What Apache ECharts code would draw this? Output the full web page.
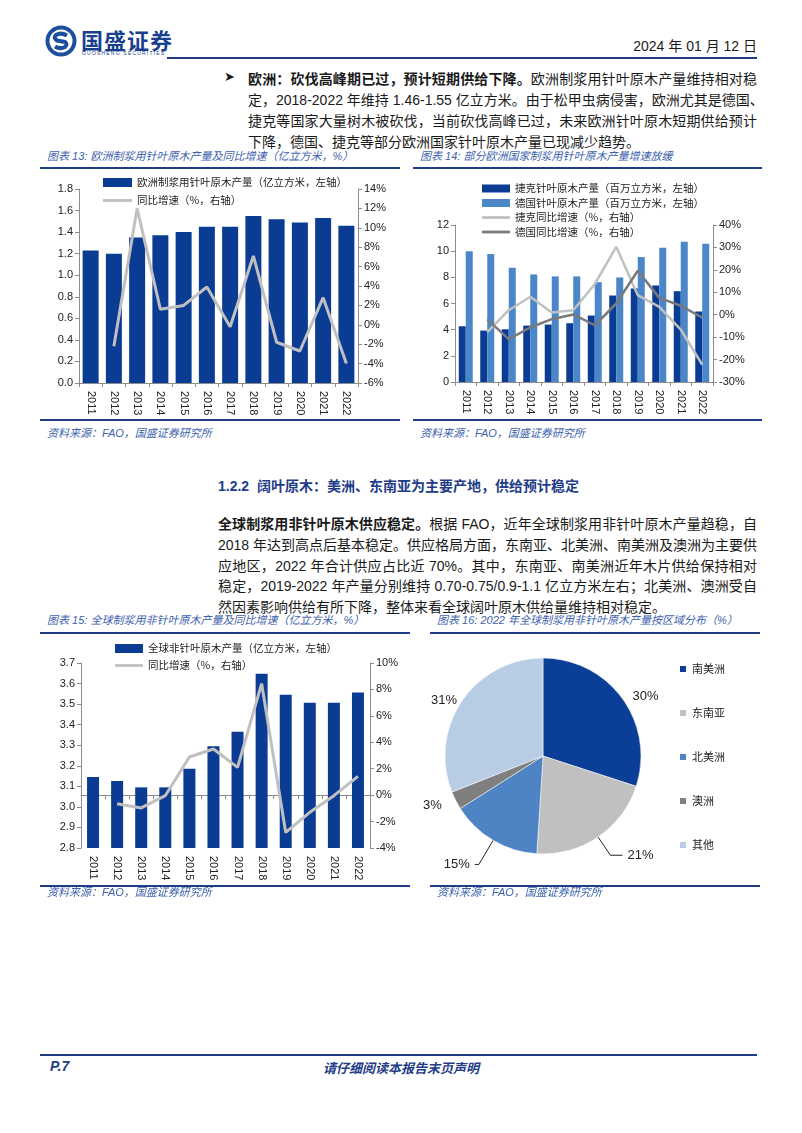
<!DOCTYPE html>
<html>
<head>
<meta charset="utf-8">
<script src="https://cdn.jsdelivr.net/npm/echarts@6.0.0/dist/echarts.min.js"></script>
<style>
  body { margin: 0; background: #fff; }
  #page { position: relative; width: 802px; height: 1133px; overflow: hidden;
    font-family: "Liberation Sans", "Noto Sans CJK SC", sans-serif; color: #1a1a1a; }
  .abs { position: absolute; }
  .ln { position: absolute; font-size: 14px; height: 21px; line-height: 21px; white-space: nowrap;
    text-align: justify; text-align-last: justify; }
  .ln.last { text-align-last: left; }
  .cap { position: absolute; font-size: 11px; font-style: italic; color: #3d62ad; white-space: nowrap; line-height: 14px; }
  .rule { position: absolute; height: 2px; background: #1f3c87; }
  .chart { position: absolute; }
</style>
</head>
<body>
<div id="page">
  <!-- header -->
  <svg class="abs" style="left:44px;top:24px" width="34" height="34" viewBox="0 0 34 34">
    <circle cx="17" cy="17" r="15.5" fill="#1d4f9e"/>
    <circle cx="17" cy="17" r="11.5" fill="#fff"/>
    <path d="M23 11.5 Q17 8 12 11 Q9 14 13 16.5 L21 18 Q24 20 21 23 Q16 25.5 11 22.5" fill="none" stroke="#1d4f9e" stroke-width="4"/>
  </svg>
  <div class="abs" style="left:81px;top:23px;font-size:22px;font-weight:bold;color:#1a3f8f;letter-spacing:1px;font-family:'Noto Sans CJK SC'">国盛证券</div>
  <div class="abs" style="left:82px;top:50px;font-size:5px;color:#1a3f8f;letter-spacing:1.2px">GUOSHENG SECURITIES</div>
  <div class="abs" style="right:45px;top:35px;font-size:14px">2024 年 01 月 12 日</div>
  <div class="rule" style="left:167px;top:57px;width:590px"></div>

  <!-- paragraph 1 -->
  <div class="abs" style="left:224px;top:69px;font-size:13px">&#10148;</div>
  <div class="ln" style="left:248px;top:69px;width:509px"><b>欧洲：砍伐高峰期已过，预计短期供给下降。</b>欧洲制浆用针叶原木产量维持相对稳</div>
  <div class="ln" style="left:248px;top:90px;width:509px">定，2018-2022 年维持 1.46-1.55 亿立方米。由于松甲虫病侵害，欧洲尤其是德国、</div>
  <div class="ln" style="left:248px;top:111px;width:509px">捷克等国家大量树木被砍伐，当前砍伐高峰已过，未来欧洲针叶原木短期供给预计</div>
  <div class="ln last" style="left:248px;top:132px;width:509px">下降，德国、捷克等部分欧洲国家针叶原木产量已现减少趋势。</div>

  <!-- chart 13 / 14 captions -->
  <div class="cap" style="left:47px;top:149px">图表 13: 欧洲制浆用针叶原木产量及同比增速（亿立方米，%）</div>
  <div class="rule" style="left:40px;top:167px;width:360px;height:1.5px"></div>
  <div class="cap" style="left:420px;top:149px">图表 14: 部分欧洲国家制浆用针叶原木产量增速放缓</div>
  <div class="rule" style="left:413px;top:167px;width:349px;height:1.5px"></div>
  <div id="c13" class="chart" style="left:40px;top:170px;width:370px;height:250px"></div>
  <div id="c14" class="chart" style="left:410px;top:170px;width:370px;height:250px"></div>
  <div class="rule" style="left:40px;top:419px;width:360px;height:1.5px"></div>
  <div class="rule" style="left:413px;top:419px;width:349px;height:1.5px"></div>
  <div class="cap" style="left:47px;top:426px">资料来源：FAO，国盛证券研究所</div>
  <div class="cap" style="left:420px;top:426px">资料来源：FAO，国盛证券研究所</div>

  <!-- section 1.2.2 -->
  <div class="abs" style="left:218px;top:476px;font-size:14px;font-weight:bold;color:#1f3c87;line-height:21px">1.2.2&nbsp; 阔叶原木：美洲、东南亚为主要产地，供给预计稳定</div>
  <div class="ln" style="left:218px;top:514px;width:539px"><b>全球制浆用非针叶原木供应稳定。</b>根据 FAO，近年全球制浆用非针叶原木产量趋稳，自</div>
  <div class="ln" style="left:218px;top:535px;width:539px">2018 年达到高点后基本稳定。供应格局方面，东南亚、北美洲、南美洲及澳洲为主要供</div>
  <div class="ln" style="left:218px;top:556px;width:539px">应地区，2022 年合计供应占比近 70%。其中，东南亚、南美洲近年木片供给保持相对</div>
  <div class="ln" style="left:218px;top:576px;width:539px">稳定，2019-2022 年产量分别维持 0.70-0.75/0.9-1.1 亿立方米左右；北美洲、澳洲受自</div>
  <div class="ln last" style="left:218px;top:597px;width:539px">然因素影响供给有所下降，整体来看全球阔叶原木供给量维持相对稳定。</div>

  <!-- chart 15 / 16 captions -->
  <div class="cap" style="left:47px;top:613px">图表 15: 全球制浆用非针叶原木产量及同比增速（亿立方米，%）</div>
  <div class="rule" style="left:40px;top:632px;width:370px;height:1.5px"></div>
  <div class="cap" style="left:437px;top:613px">图表 16: 2022 年全球制浆用非针叶原木产量按区域分布（%）</div>
  <div class="rule" style="left:430px;top:632px;width:330px;height:1.5px"></div>
  <div id="c15" class="chart" style="left:40px;top:636px;width:380px;height:250px"></div>
  <div id="c16" class="chart" style="left:395px;top:636px;width:390px;height:248px"></div>
  <div class="rule" style="left:40px;top:885px;width:370px;height:1.5px"></div>
  <div class="rule" style="left:430px;top:885px;width:330px;height:1.5px"></div>
  <div class="cap" style="left:47px;top:885px">资料来源：FAO，国盛证券研究所</div>
  <div class="cap" style="left:437px;top:885px">资料来源：FAO，国盛证券研究所</div>

  <!-- footer -->
  <div class="rule" style="left:40px;top:1054px;width:717px"></div>
  <div class="abs" style="left:50px;top:1058px;font-size:14px;font-weight:bold;font-style:italic;color:#1f3c87">P.7</div>
  <div class="abs" style="left:0;width:802px;text-align:center;top:1058px;font-size:13px;font-style:italic;color:#1f3c87;font-weight:bold">请仔细阅读本报告末页声明</div>
</div>

<script>
// ---- data ----
const years = ['2011', '2012', '2013', '2014', '2015', '2016', '2017', '2018', '2019', '2020', '2021', '2022'];

// 图表13
const euOutput = [1.23, 1.20, 1.35, 1.37, 1.40, 1.45, 1.45, 1.55, 1.52, 1.49, 1.53, 1.46];
const euGrowth = [null, -2.2, 12.0, 1.6, 2.0, 3.9, -0.2, 7.1, -1.8, -2.7, 2.8, -4.0];

// 图表14
const czOutput = [4.26, 3.93, 4.03, 4.31, 4.39, 4.49, 5.08, 6.61, 7.15, 7.38, 6.94, 5.39];
const deOutput = [10.0, 9.78, 8.73, 8.22, 8.07, 8.07, 7.63, 7.99, 9.55, 10.26, 10.72, 10.57];
const czGrowth = [null, -7.8, 2.0, 8.0, 1.0, 2.0, 13.6, 30.3, 8.7, 3.5, -6.6, -22.3];
const deGrowth = [null, -2.1, -10.9, -5.7, -2.0, 0.1, -4.7, 5.0, 19.6, 7.5, 4.0, -1.3];

// 图表15
const hwOutput = [3.145, 3.126, 3.095, 3.095, 3.186, 3.295, 3.366, 3.648, 3.546, 3.507, 3.507, 3.556];
const hwGrowth = [null, -0.65, -0.97, -0.04, 2.89, 3.49, 2.1, 8.44, -2.82, -1.3, -0.04, 1.42];

// 图表16
const regions = ['南美洲', '东南亚', '北美洲', '澳洲', '其他'];
const regionShare = [30, 21, 15, 3, 31];

// ---- styles ----
const DARK = '#0b3c94';
const MID = '#4a86c8';
const GREY_L = '#c0c0c0';
const GREY_D = '#7a7a7a';
const FONT = '"Liberation Sans", "Noto Sans CJK SC", sans-serif';
const axisGrey = '#8c8c8c';
const LINE_ICON = 'path://M0,0L30,0L30,3L0,3Z';

function xAxis() {
  return {
    type: 'category', data: years,
    axisLine: { lineStyle: { color: axisGrey } },
    axisTick: { show: true, length: 4, lineStyle: { color: axisGrey } },
    axisLabel: { rotate: -90, fontSize: 11, color: '#222', fontFamily: FONT, margin: 8 }
  };
}
function yAxis(pos, min, max, step, fmt) {
  return {
    type: 'value', position: pos, min: min, max: max, interval: step,
    axisLine: { show: true, lineStyle: { color: axisGrey } },
    axisTick: { show: true, length: 4, lineStyle: { color: axisGrey } },
    splitLine: { show: false },
    axisLabel: { fontSize: 11, color: '#222', fontFamily: FONT, formatter: fmt, margin: 6 }
  };
}
function legendText() {
  return { fontSize: 10.5, color: '#222', fontFamily: '"Noto Sans CJK SC"', lineHeight: 13 };
}

// 图表13
const c13 = echarts.init(document.getElementById('c13'));
c13.setOption({
  animation: false,
  grid: { left: 39, right: 52, top: 19, bottom: 37 },
  legend: {
    orient: 'vertical', left: 58, top: 1, itemGap: 5, itemWidth: 29, itemHeight: 9, symbolKeepAspect: true,
    textStyle: legendText(),
    data: [{ name: '欧洲制浆用针叶原木产量（亿立方米，左轴）', icon: 'rect' },
           { name: '同比增速（%，右轴）', icon: LINE_ICON }]
  },
  xAxis: xAxis(),
  yAxis: [
    yAxis('left', 0, 1.8, 0.2, v => v.toFixed(1)),
    yAxis('right', -6, 14, 2, v => v + '%')
  ],
  series: [
    { name: '欧洲制浆用针叶原木产量（亿立方米，左轴）', type: 'bar', data: euOutput, barWidth: 16,
      itemStyle: { color: DARK } },
    { name: '同比增速（%，右轴）', type: 'line', yAxisIndex: 1, data: euGrowth, symbol: 'none',
      lineStyle: { color: GREY_L, width: 3 }, itemStyle: { color: GREY_L } }
  ]
});

// 图表14
const c14 = echarts.init(document.getElementById('c14'));
c14.setOption({
  animation: false,
  grid: { left: 45, right: 67, top: 55, bottom: 38 },
  legend: {
    orient: 'vertical', left: 67, top: 7, itemGap: 1.5, itemWidth: 28, itemHeight: 8, symbolKeepAspect: true,
    textStyle: legendText(),
    data: [
      { name: '捷克针叶原木产量（百万立方米，左轴）', icon: 'rect' },
      { name: '德国针叶原木产量（百万立方米，左轴）', icon: 'rect' },
      { name: '捷克同比增速（%，右轴）', icon: LINE_ICON },
      { name: '德国同比增速（%，右轴）', icon: LINE_ICON }
    ]
  },
  xAxis: xAxis(),
  yAxis: [
    yAxis('left', 0, 12, 2, v => v),
    yAxis('right', -30, 40, 10, v => v + '%')
  ],
  series: [
    { name: '捷克针叶原木产量（百万立方米，左轴）', type: 'bar', data: czOutput, barWidth: 7, barGap: '0%',
      itemStyle: { color: DARK } },
    { name: '德国针叶原木产量（百万立方米，左轴）', type: 'bar', data: deOutput, barWidth: 7, barGap: '0%',
      itemStyle: { color: MID } },
    { name: '捷克同比增速（%，右轴）', type: 'line', yAxisIndex: 1, data: czGrowth, symbol: 'none',
      lineStyle: { color: GREY_L, width: 2.5 }, itemStyle: { color: GREY_L } },
    { name: '德国同比增速（%，右轴）', type: 'line', yAxisIndex: 1, data: deGrowth, symbol: 'none',
      lineStyle: { color: GREY_D, width: 2.5 }, itemStyle: { color: GREY_D } }
  ]
});

// 图表15
const c15 = echarts.init(document.getElementById('c15'));
c15.setOption({
  animation: false,
  grid: { left: 41, right: 50, top: 27, bottom: 38 },
  legend: {
    orient: 'vertical', left: 70, top: 1, itemGap: 4, itemWidth: 28, itemHeight: 9, symbolKeepAspect: true,
    textStyle: legendText(),
    data: [{ name: '全球非针叶原木产量（亿立方米，左轴）', icon: 'rect' },
           { name: '同比增速（%，右轴）', icon: LINE_ICON }]
  },
  xAxis: xAxis(),
  yAxis: [
    yAxis('left', 2.8, 3.7, 0.1, v => v.toFixed(1)),
    yAxis('right', -4, 10, 2, v => v + '%')
  ],
  series: [
    { name: '全球非针叶原木产量（亿立方米，左轴）', type: 'bar', data: hwOutput, barWidth: 12,
      itemStyle: { color: DARK } },
    { name: '同比增速（%，右轴）', type: 'line', yAxisIndex: 1, data: hwGrowth, symbol: 'none',
      lineStyle: { color: GREY_L, width: 3 }, itemStyle: { color: GREY_L } }
  ]
});

// 图表16
const pieColors = ['#0b3f97', '#c0c0c0', '#4f84c4', '#7f7f7f', '#b8cce4'];
const pieLines = [
  { length: 4, length2: 2, show: false },
  { length: 22, length2: 12, show: true },
  { length: 28, length2: 4, show: true },
  { length: 10, length2: 0, show: false },
  { length: 0, length2: 0, show: false }
];
const c16 = echarts.init(document.getElementById('c16'));
c16.setOption({
  animation: false,
  color: pieColors,
  legend: {
    orient: 'vertical', left: 278, top: 21, itemGap: 30, itemWidth: 8, itemHeight: 8, icon: 'rect',
    textStyle: { fontSize: 11, color: '#222', fontFamily: '"Noto Sans CJK SC"', lineHeight: 14 },
    data: regions
  },
  series: [{
    type: 'pie', center: [148, 120], radius: 98, startAngle: 90, avoidLabelOverlap: false,
    itemStyle: { borderColor: '#fff', borderWidth: 0.5 },
    label: { formatter: '{c}%', fontSize: 13, color: '#222', fontFamily: FONT },
    labelLine: { lineStyle: { color: '#222', width: 1 } },
    data: regions.map((r, i) => ({ name: r, value: regionShare[i], labelLine: pieLines[i] }))
  }]
});
</script>
</body>
</html>
